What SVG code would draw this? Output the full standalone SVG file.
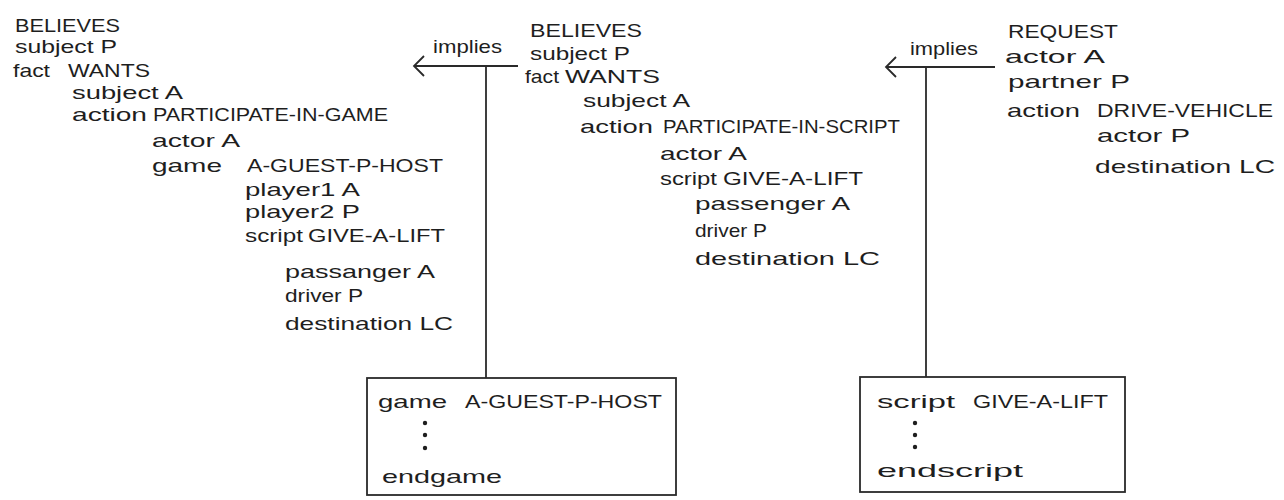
<svg xmlns="http://www.w3.org/2000/svg" width="1284" height="500" viewBox="0 0 1284 500">
<style>
text{font-family:"Liberation Sans","DejaVu Sans",sans-serif;font-size:19px;fill:#1e1e1e}
.ln{stroke:#2a2a2a;stroke-width:1.8;fill:none}
.box{stroke:#2a2a2a;stroke-width:1.8;fill:#fff}
.dot{fill:#1e1e1e}
</style>
<defs>
<marker id="open" markerUnits="userSpaceOnUse" viewBox="-12 -12 14 24" refX="0" refY="0" markerWidth="14" markerHeight="24" orient="auto">
<path d="M -10 -10 L 0 0 L -10 10" fill="none" stroke="#2a2a2a" stroke-width="1.8"/>
</marker>
</defs>
<rect width="1284" height="500" fill="#fff"/>
<g id="connectors">
<line class="ln" x1="518" y1="66" x2="414" y2="66" marker-end="url(#open)"/>
<line class="ln" x1="486" y1="66" x2="486" y2="378"/>
<text x="433" y="53" textLength="69" lengthAdjust="spacingAndGlyphs">implies</text>
<line class="ln" x1="995" y1="67" x2="886" y2="67" marker-end="url(#open)"/>
<line class="ln" x1="926" y1="67" x2="926" y2="377"/>
<text x="910" y="55" textLength="68" lengthAdjust="spacingAndGlyphs">implies</text>
</g>
<g id="node-believes-game">
<text x="15" y="32" textLength="105" lengthAdjust="spacingAndGlyphs">BELIEVES</text>
<text x="15" y="53" textLength="102" lengthAdjust="spacingAndGlyphs">subject P</text>
<text x="13" y="77" textLength="37" lengthAdjust="spacingAndGlyphs">fact</text>
<text x="68" y="77" textLength="82" lengthAdjust="spacingAndGlyphs">WANTS</text>
<text x="72" y="99" textLength="111" lengthAdjust="spacingAndGlyphs">subject A</text>
<text x="72" y="121" textLength="75" lengthAdjust="spacingAndGlyphs">action</text>
<text x="153" y="121" textLength="235" lengthAdjust="spacingAndGlyphs">PARTICIPATE-IN-GAME</text>
<text x="152" y="147" textLength="88" lengthAdjust="spacingAndGlyphs">actor A</text>
<text x="152" y="172" textLength="70" lengthAdjust="spacingAndGlyphs">game</text>
<text x="247" y="172" textLength="196" lengthAdjust="spacingAndGlyphs">A-GUEST-P-HOST</text>
<text x="245" y="196" textLength="115" lengthAdjust="spacingAndGlyphs">player1 A</text>
<text x="245" y="218" textLength="115" lengthAdjust="spacingAndGlyphs">player2 P</text>
<text x="245" y="242" textLength="58" lengthAdjust="spacingAndGlyphs">script</text>
<text x="308" y="242" textLength="137" lengthAdjust="spacingAndGlyphs">GIVE-A-LIFT</text>
<text x="285" y="278" textLength="150" lengthAdjust="spacingAndGlyphs">passanger A</text>
<text x="285" y="302" textLength="78" lengthAdjust="spacingAndGlyphs">driver P</text>
<text x="285" y="330" textLength="168" lengthAdjust="spacingAndGlyphs">destination LC</text>
</g>
<g id="node-believes-script">
<text x="530" y="37" textLength="112" lengthAdjust="spacingAndGlyphs">BELIEVES</text>
<text x="530" y="60" textLength="100" lengthAdjust="spacingAndGlyphs">subject P</text>
<text x="525" y="83" textLength="34" lengthAdjust="spacingAndGlyphs">fact</text>
<text x="565" y="83" textLength="95" lengthAdjust="spacingAndGlyphs">WANTS</text>
<text x="583" y="107" textLength="107" lengthAdjust="spacingAndGlyphs">subject A</text>
<text x="580" y="133" textLength="73" lengthAdjust="spacingAndGlyphs">action</text>
<text x="663" y="133" textLength="237" lengthAdjust="spacingAndGlyphs">PARTICIPATE-IN-SCRIPT</text>
<text x="660" y="160" textLength="87" lengthAdjust="spacingAndGlyphs">actor A</text>
<text x="660" y="185" textLength="57" lengthAdjust="spacingAndGlyphs">script</text>
<text x="723" y="185" textLength="140" lengthAdjust="spacingAndGlyphs">GIVE-A-LIFT</text>
<text x="695" y="210" textLength="155" lengthAdjust="spacingAndGlyphs">passenger A</text>
<text x="695" y="237" textLength="72" lengthAdjust="spacingAndGlyphs">driver P</text>
<text x="695" y="265" textLength="185" lengthAdjust="spacingAndGlyphs">destination LC</text>
</g>
<g id="node-request">
<text x="1008" y="38" textLength="110" lengthAdjust="spacingAndGlyphs">REQUEST</text>
<text x="1005" y="63" textLength="100" lengthAdjust="spacingAndGlyphs">actor A</text>
<text x="1008" y="88" textLength="122" lengthAdjust="spacingAndGlyphs">partner P</text>
<text x="1007" y="117" textLength="73" lengthAdjust="spacingAndGlyphs">action</text>
<text x="1097" y="117" textLength="176" lengthAdjust="spacingAndGlyphs">DRIVE-VEHICLE</text>
<text x="1097" y="142" textLength="93" lengthAdjust="spacingAndGlyphs">actor P</text>
<text x="1095" y="173" textLength="180" lengthAdjust="spacingAndGlyphs">destination LC</text>
</g>
<g id="node-game-box">
<rect class="box" x="367" y="378" width="309" height="117"/>
<text x="378" y="408" textLength="69" lengthAdjust="spacingAndGlyphs">game</text>
<text x="465" y="408" textLength="197" lengthAdjust="spacingAndGlyphs">A-GUEST-P-HOST</text>
<circle class="dot" cx="425" cy="423" r="2.2"/>
<circle class="dot" cx="425" cy="435" r="2.2"/>
<circle class="dot" cx="425" cy="448" r="2.2"/>
<text x="382" y="483" textLength="120" lengthAdjust="spacingAndGlyphs">endgame</text>
</g>
<g id="node-script-box">
<rect class="box" x="860" y="377" width="265" height="115"/>
<text x="877" y="408" textLength="78" lengthAdjust="spacingAndGlyphs">script</text>
<text x="973" y="408" textLength="135" lengthAdjust="spacingAndGlyphs">GIVE-A-LIFT</text>
<circle class="dot" cx="915" cy="423" r="2.2"/>
<circle class="dot" cx="915" cy="435" r="2.2"/>
<circle class="dot" cx="915" cy="447" r="2.2"/>
<text x="877" y="477" textLength="146" lengthAdjust="spacingAndGlyphs">endscript</text>
</g>
</svg>
